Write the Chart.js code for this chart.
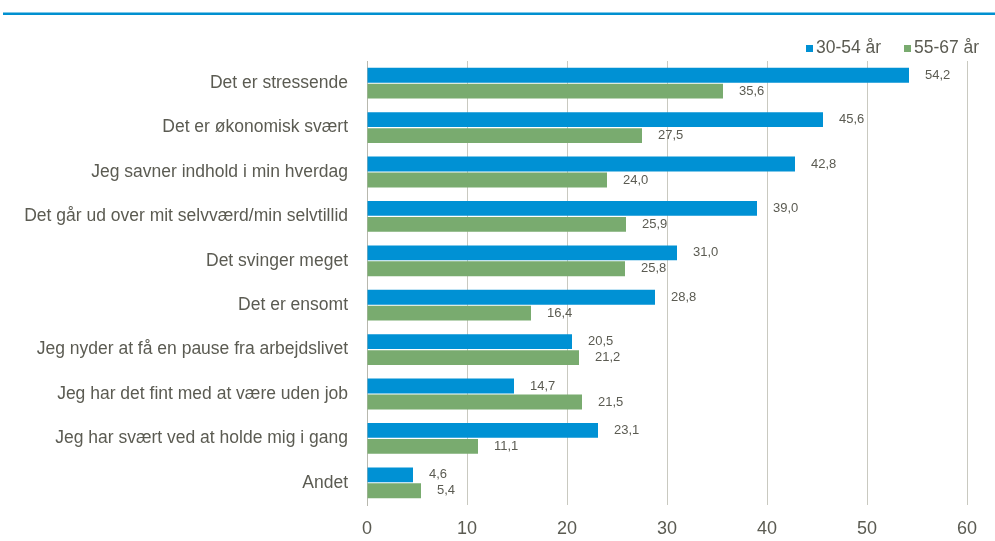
<!DOCTYPE html>
<html>
<head>
<meta charset="utf-8">
<script src="https://cdn.jsdelivr.net/npm/chart.js@4.4.0/dist/chart.umd.min.js"></script>
<style>
html,body{margin:0;padding:0;background:#fff;}
#wrap{width:995px;height:541px;position:relative;}
</style>
</head>
<body>
<div id="wrap"><canvas id="c" width="995" height="541"></canvas></div>
<script>
const categories = [
  "Det er stressende",
  "Det er økonomisk svært",
  "Jeg savner indhold i min hverdag",
  "Det går ud over mit selvværd/min selvtillid",
  "Det svinger meget",
  "Det er ensomt",
  "Jeg nyder at få en pause fra arbejdslivet",
  "Jeg har det fint med at være uden job",
  "Jeg har svært ved at holde mig i gang",
  "Andet"
];
const seriesNames = ["30-54 år", "55-67 år"];
const values3054 = [54.2, 45.6, 42.8, 39.0, 31.0, 28.8, 20.5, 14.7, 23.1, 4.6];
const values5567 = [35.6, 27.5, 24.0, 25.9, 25.8, 16.4, 21.2, 21.5, 11.1, 5.4];
const xTicks = [0, 10, 20, 30, 40, 50, 60];

const BLUE = "#0091d4";
const GREEN = "#79ab6f";
const TEXT = "#5b5b52";
const FONT = "'Liberation Sans', Arial, sans-serif";

const decorPlugin = {
  id: "decor",
  beforeDraw(chart) {
    const ctx = chart.ctx;
    ctx.save();
    ctx.fillStyle = "#ffffff";
    ctx.fillRect(0, 0, chart.width, chart.height);
    ctx.fillStyle = "#0090d0";
    ctx.fillRect(3, 12.5, 992, 2.5);
    ctx.restore();
  },
  afterDatasetsDraw(chart) {
    const ctx = chart.ctx;
    ctx.save();
    ctx.font = "13px " + FONT;
    ctx.fillStyle = TEXT;
    ctx.textAlign = "left";
    ctx.textBaseline = "middle";
    chart.data.datasets.forEach((ds, di) => {
      const meta = chart.getDatasetMeta(di);
      meta.data.forEach((el, i) => {
        const v = ds.data[i];
        ctx.fillText(v.toFixed(1).replace(".", ","), el.x + 16, el.y);
      });
    });
    // legend
    ctx.font = "17.5px " + FONT;
    ctx.textBaseline = "middle";
    const items = [{x: 806, c: BLUE, t: chart.data.datasets[0].label},
                   {x: 904, c: GREEN, t: chart.data.datasets[1].label}];
    items.forEach(it => {
      ctx.fillStyle = it.c;
      ctx.fillRect(it.x, 45, 7, 7);
      ctx.fillStyle = TEXT;
      ctx.fillText(it.t, it.x + 10, 48.5);
    });
    ctx.restore();
  }
};

new Chart(document.getElementById("c"), {
  type: "bar",
  data: {
    labels: categories,
    datasets: [
      {label: seriesNames[0], data: values3054, backgroundColor: BLUE, borderWidth: 0,
       categoryPercentage: 0.72, barPercentage: 0.93},
      {label: seriesNames[1], data: values5567, backgroundColor: GREEN, borderWidth: 0,
       categoryPercentage: 0.72, barPercentage: 0.93}
    ]
  },
  options: {
    indexAxis: "y",
    responsive: false,
    animation: false,
    devicePixelRatio: 1,
    layout: {padding: {left: 0, right: 28, top: 61, bottom: 0}},
    plugins: {legend: {display: false}, tooltip: {enabled: false}, title: {display: false}},
    scales: {
      x: {
        min: 0, max: 60,
        afterBuildTicks(scale) { scale.ticks = xTicks.map(v => ({value: v})); },
        afterFit(scale) { scale.height = 36; },
        grid: {color: "#c9c9c0", lineWidth: 1, drawTicks: false},
        border: {display: false},
        ticks: {color: TEXT, font: {size: 18, family: FONT}, padding: 13}
      },
      y: {
        afterFit(scale) { scale.width = 367; },
        grid: {display: false, drawTicks: false},
        border: {display: true, color: "#b8b8ae", width: 1},
        ticks: {color: TEXT, font: {size: 17.5, family: FONT}, padding: 19}
      }
    }
  },
  plugins: [decorPlugin]
});
</script>
</body>
</html>
